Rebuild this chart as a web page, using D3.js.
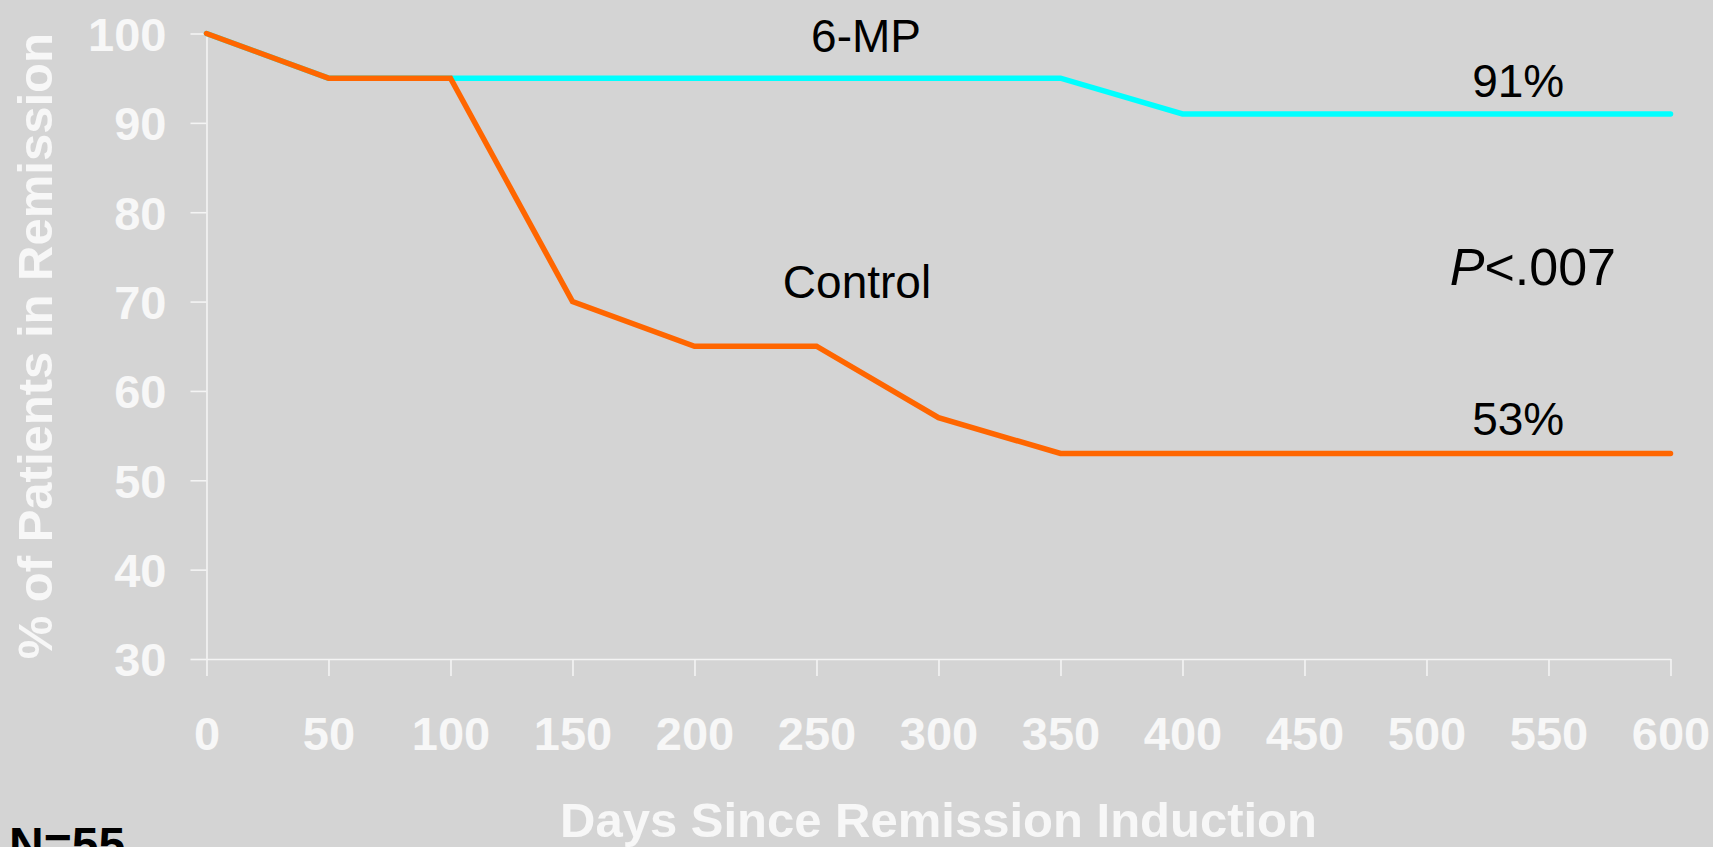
<!DOCTYPE html>
<html>
<head>
<meta charset="utf-8">
<script src="https://cdn.jsdelivr.net/npm/d3@7"></script>
<style>
  html, body { margin: 0; padding: 0; background: #d4d4d4; }
  svg { display: block; }
  text { font-family: "Liberation Sans", Arial, sans-serif; }
</style>
</head>
<body>
<svg id="chart" width="1713" height="847"></svg>
<script>
// ---- data ----
const days = [0, 50, 100, 150, 200, 250, 300, 350, 400, 450, 500, 550, 600];
const mp6 = [100, 95, 95, 95, 95, 95, 95, 95, 91, 91, 91, 91, 91];
const control = [100, 95, 95, 70, 65, 65, 57, 53, 53, 53, 53, 53, 53];
const xTicks = [0, 50, 100, 150, 200, 250, 300, 350, 400, 450, 500, 550, 600];
const yTicks = [30, 40, 50, 60, 70, 80, 90, 100];
const annotations = [
  { text: "6-MP", x: 270.3, y: 97.96 },
  { text: "Control", x: 266.6, y: 70.37 },
  { text: "91%", x: 537.6, y: 92.86 },
  { text: "53%", x: 537.6, y: 55.07 }
];
const pLabel = { italic: "P", rest: "<.007", x: 543.6, y: 71.85 };
const xTitle = "Days Since Remission Induction";
const yTitle = "% of Patients in Remission";
const nLabel = "N=55";

// ---- layout ----
const svg = d3.select("#chart");
const W = 1713, H = 847;
svg.append("rect").attr("width", W).attr("height", H).attr("fill", "#d4d4d4");

const x = d3.scaleLinear().domain([0, 600]).range([206.5, 1670.5]);
const y = d3.scaleLinear().domain([30, 100]).range([659, 33.5]);
const axisColor = "#f4f4f4";
const textColor = "#f7f7f7";

// y axis
const gy = svg.append("g").attr("transform", `translate(${x(0)},0)`)
  .call(d3.axisLeft(y).tickValues(yTicks).tickSize(16).tickSizeOuter(0).tickPadding(24));
// x axis
const gx = svg.append("g").attr("transform", `translate(0,${y(30)})`)
  .call(d3.axisBottom(x).tickValues(xTicks).tickSize(17).tickSizeOuter(0));

[gx, gy].forEach(g => {
  g.select(".domain").attr("stroke", axisColor).attr("stroke-width", 1.6);
  g.selectAll(".tick line").attr("stroke", axisColor).attr("stroke-width", 1.6);
  g.selectAll(".tick text")
    .attr("fill", textColor)
    .attr("font-family", '"Liberation Sans", Arial, sans-serif')
    .attr("font-weight", "bold")
    .attr("font-size", 47);
});
gx.selectAll(".tick text").attr("dy", null).attr("y", 91);
gy.selectAll(".tick text").attr("dy", "0.36em");

// lines
const line = d3.line().x(d => x(d[0])).y(d => y(d[1]));
const mpData = days.map((d, i) => [d, mp6[i]]);
const ctData = days.map((d, i) => [d, control[i]]);

svg.append("path").datum(mpData).attr("d", line)
  .attr("fill", "none").attr("stroke", "#00ffff").attr("stroke-width", 5.5)
  .attr("stroke-linecap", "round").attr("stroke-linejoin", "miter");
svg.append("path").datum(ctData).attr("d", line)
  .attr("fill", "none").attr("stroke", "#ff6600").attr("stroke-width", 5.5)
  .attr("stroke-linecap", "round").attr("stroke-linejoin", "miter");

// annotations
svg.selectAll("text.ann").data(annotations).enter().append("text")
  .attr("class", "ann")
  .attr("x", d => x(d.x)).attr("y", d => y(d.y))
  .attr("text-anchor", "middle")
  .attr("font-size", 46).attr("fill", "#000")
  .text(d => d.text);

const pt = svg.append("text")
  .attr("x", x(pLabel.x)).attr("y", y(pLabel.y))
  .attr("text-anchor", "middle")
  .attr("font-size", 52).attr("fill", "#000");
pt.append("tspan").attr("font-style", "italic").text(pLabel.italic);
pt.append("tspan").text(pLabel.rest);

// axis titles
svg.append("text")
  .attr("x", (x(0) + x(600)) / 2).attr("y", 837)
  .attr("text-anchor", "middle")
  .attr("font-size", 49).attr("font-weight", "bold").attr("fill", textColor)
  .text(xTitle);

svg.append("text")
  .attr("transform", `translate(52,${(y(30) + y(100)) / 2 - 0}) rotate(-90)`)
  .attr("text-anchor", "middle")
  .attr("font-size", 49).attr("font-weight", "bold").attr("fill", textColor)
  .text(yTitle);

// N label (cut off at the bottom edge, as in the reference)
svg.append("text")
  .attr("x", 9).attr("y", 861)
  .attr("font-size", 48).attr("font-weight", "bold").attr("fill", "#000")
  .text(nLabel);
</script>
</body>
</html>
